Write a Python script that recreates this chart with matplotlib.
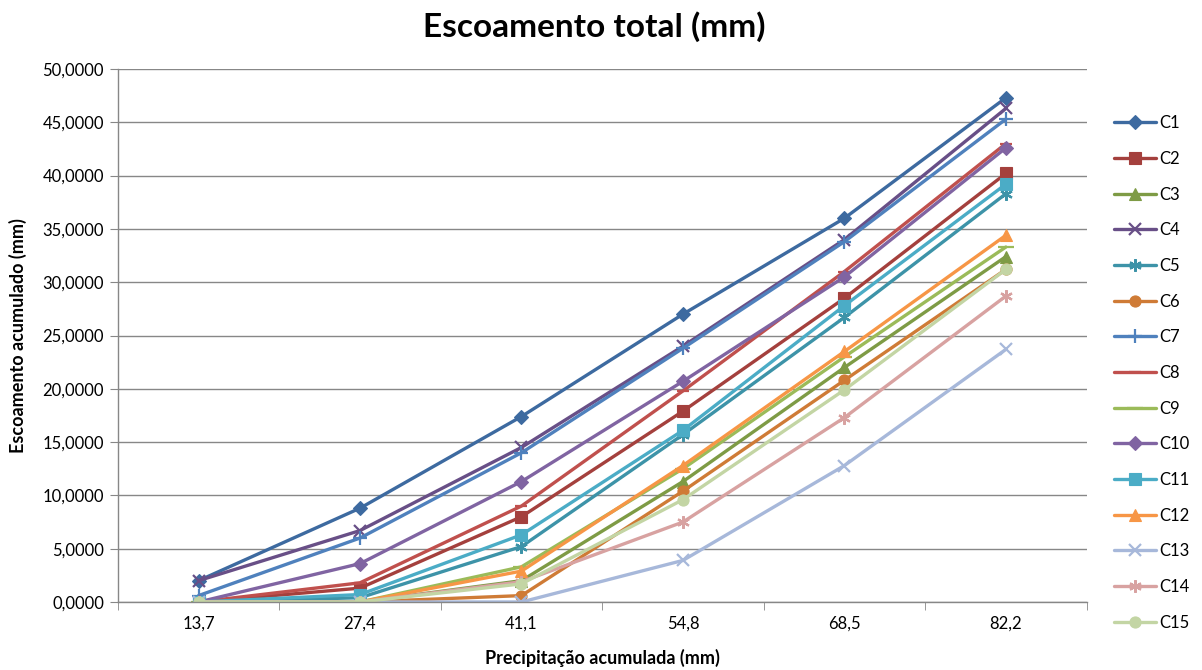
import numpy as np
import matplotlib
matplotlib.use("Agg")
import matplotlib.pyplot as plt
from matplotlib.ticker import FuncFormatter

plt.rcParams['font.family'] = ['Lato', 'DejaVu Sans']

# precipitação acumulada (categorias do eixo x)
precip = ["13,7", "27,4", "41,1", "54,8", "68,5", "82,2"]

# escoamento acumulado (mm) por cenário
C1 = [2.0, 8.8, 17.4, 27.0, 36.0, 47.3]
C2 = [0.0, 1.3, 8.0, 17.9, 28.5, 40.2]
C3 = [0.0, 0.0, 2.0, 11.3, 22.0, 32.4]
C4 = [2.0, 6.7, 14.5, 24.0, 34.0, 46.3]
C5 = [0.0, 0.4, 5.2, 15.7, 26.7, 38.3]
C6 = [0.0, 0.0, 0.6, 10.4, 20.8, 31.2]
C7 = [0.6, 6.0, 14.0, 23.8, 33.8, 45.3]
C8 = [0.0, 1.8, 9.0, 19.8, 31.0, 43.0]
C9 = [0.0, 0.0, 3.3, 12.5, 23.0, 33.3]
C10 = [0.0, 3.6, 11.3, 20.7, 30.5, 42.6]
C11 = [0.0, 0.7, 6.3, 16.1, 27.8, 39.2]
C12 = [0.0, 0.0, 2.9, 12.8, 23.5, 34.4]
C13 = [0.0, 0.0, 0.0, 3.9, 12.8, 23.7]
C14 = [0.0, 0.0, 1.9, 7.5, 17.3, 28.7]
C15 = [0.0, 0.0, 1.7, 9.6, 19.9, 31.2]

series = [C1, C2, C3, C4, C5, C6, C7, C8, C9, C10, C11, C12, C13, C14, C15]
names = ["C%d" % (i + 1) for i in range(len(series))]

colors = ["#3D6AA0", "#A4403D", "#7E9B45", "#684F87", "#3D93A8", "#CF7B36",
          "#4F81BD", "#C0504D", "#9BBB59", "#8064A2", "#4BACC6", "#F79646",
          "#A7B8DA", "#D8A2A1", "#C3D5A4"]
markers = ["D", "s", "^", "x", (6, 2, 0), "o", "+", "_", "_",
           "D", "s", "^", "x", (6, 2, 0), "o"]
msizes = [7, 8, 8, 9, 9, 8, 10, 9, 12, 7, 8, 8, 9, 9, 8]

fig = plt.figure(figsize=(12.02, 6.70), dpi=100)
ax = fig.add_axes([0.098, 0.1015, 0.806, 0.7955])

x = np.arange(len(precip))
for vals, name, c, m, ms in zip(series, names, colors, markers, msizes):
    ax.plot(x, vals, color=c, lw=2.4, marker=m, markersize=ms,
            markeredgewidth=1.6 if m in ("x", "+", (6, 2, 0), "_") else 0.8,
            markeredgecolor=c, label=name, solid_capstyle="round")

ax.set_xlim(-0.5, len(precip) - 0.5)
ax.set_ylim(0, 50)
ax.set_xticks(x)
ax.set_xticklabels(precip)
ax.set_xticks(np.arange(-0.5, len(precip), 1.0), minor=True)
ax.tick_params(axis="x", which="major", length=0, labelsize=12, pad=10)
ax.tick_params(axis="x", which="minor", length=6, color="#878787", direction="out")
ax.set_yticks(np.arange(0, 50.1, 5))
ax.yaxis.set_major_formatter(FuncFormatter(lambda v, p: ("%.4f" % v).replace(".", ",")))
ax.tick_params(axis="y", length=6, color="#878787", labelsize=12, pad=4)
ax.grid(axis="y", color="#878787", lw=1.0)
ax.set_axisbelow(True)
for s in ["top", "right"]:
    ax.spines[s].set_visible(False)
for s in ["left", "bottom"]:
    ax.spines[s].set_color("#878787")
    ax.spines[s].set_linewidth(1.0)

ax.set_xlabel("Precipitação acumulada (mm)", fontsize=13, fontweight="bold", labelpad=12)
ax.set_ylabel("Escoamento acumulado (mm)", fontsize=13, fontweight="bold", labelpad=11)
fig.text(0.494, 0.961, "Escoamento total (mm)", fontsize=24, fontweight="bold",
         ha="center", va="center")

fig.legend(loc="upper left", bbox_to_anchor=(0.927, 0.828), frameon=False,
           fontsize=12, handlelength=2.5, handletextpad=0.2, labelspacing=1.18,
           borderpad=0, borderaxespad=0)

fig.savefig("out.png", dpi=100)
